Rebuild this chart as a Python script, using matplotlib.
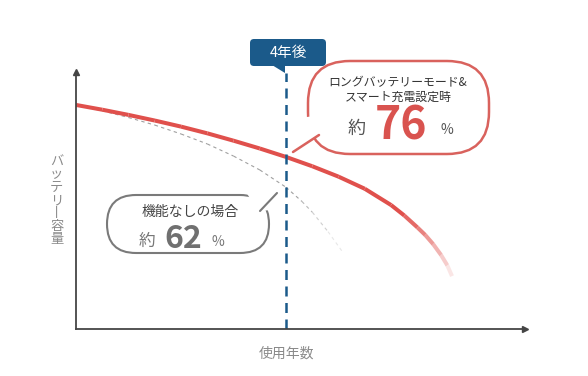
import numpy as np
import matplotlib
matplotlib.use('Agg')
import matplotlib.pyplot as plt
from matplotlib.collections import LineCollection
from matplotlib.patches import FancyBboxPatch, Polygon

plt.rcParams['font.family'] = ['Noto Sans CJK JP', 'DejaVu Sans']

# data (years, remaining capacity %)
red_years = [0, 0.5, 1, 1.5, 2, 2.5, 3, 3.5, 4, 4.5, 5, 5.5, 6, 6.25, 6.5, 6.65, 6.8,
             6.95, 7.07, 7.16]
red_cap = [100, 97.8, 95.4, 92.8, 90.0, 86.9, 83.5, 79.9, 76.0, 71.7, 66.9, 61.3, 53.8,
           49.0, 43.5, 40.0, 35.8, 30.8, 26.0, 21.0]
gray_years = [0, 0.5, 1, 1.5, 2, 2.5, 3, 3.5, 4, 4.3, 4.5, 4.8, 5.09]
gray_cap = [100, 97.3, 94.2, 90.7, 86.6, 82.0, 76.4, 70.0, 62.0, 55.5, 50.5, 41.5, 31.7]
mark_year = 4
label_year = '4年後'
ylabel = 'バッテリー容量'
xlabel = '使用年数'
red_title = 'ロングバッテリーモード&\nスマート充電設定時'
red_value = '76'
gray_title = '機能なしの場合'
gray_value = '62'

RED = '#e0504c'
RED_EDGE = '#d9625d'
BLUE = '#1b5a8a'
AXC = '#454545'

fig = plt.figure(figsize=(5.88, 3.76), dpi=100)
ax = fig.add_axes([76/588, 1-329/376, (525-76)/588, (329-72)/376])
ax.set_xlim(0, 8.55)
ax.set_ylim(-3.4, 115.2)
for s in ['top', 'right']:
    ax.spines[s].set_visible(False)
for s in ['left', 'bottom']:
    ax.spines[s].set_color(AXC)
    ax.spines[s].set_linewidth(1.3)
ax.set_xticks([])
ax.set_yticks([])
ax.plot(1, 0, '>', color=AXC, ms=5, transform=ax.transAxes, clip_on=False)
ax.plot(0, 1, '^', color=AXC, ms=5, transform=ax.transAxes, clip_on=False)

def faded(xs, ys, color, start, lw, ls='solid'):
    pts = np.column_stack([xs, ys])
    segs = [pts[i:i+2] for i in range(len(pts)-1)]
    n = len(segs)
    alphas = []
    for i in range(n):
        if i < start:
            alphas.append(1.0)
        else:
            alphas.append(max(0.04, 1 - (i - start + 1) / (n - start + 1)))
    cols = [matplotlib.colors.to_rgba(color, a) for a in alphas]
    lc = LineCollection(segs, colors=cols, linewidths=lw, linestyles=ls, capstyle='butt')
    ax.add_collection(lc)

faded(gray_years, gray_cap, '#a0a0a0', 9, 0.8, ls=(0, (3, 3)))
faded(red_years, red_cap, RED, 13, 2.9)

ax.axvline(mark_year, ymin=0, ymax=(329-73)/(329-72), color=BLUE, lw=1.8, ls=(0, (4, 2.6)))

ax.text(-0.043, 0.5, '\n'.join(ylabel.replace('ー', '丨')), transform=ax.transAxes,
        ha='center', va='center', fontsize=9.5, color='#8a8a8a', linespacing=1.0)
ax.text(mark_year, -0.07, xlabel, transform=ax.get_xaxis_transform(), ha='center', va='top',
        fontsize=10, color='#8a8a8a')

# overlay in pixel coordinates for callouts
ov = fig.add_axes([0, 0, 1, 1], facecolor='none')
ov.set_xlim(0, 588)
ov.set_ylim(376, 0)
ov.axis('off')

# 4年後 tag
ov.add_patch(FancyBboxPatch((250, 39), 76, 27, boxstyle='round,pad=0,rounding_size=4',
                            fc=BLUE, ec='none'))
ov.add_patch(Polygon([(272, 65), (285, 65), (285, 73)], closed=True, fc=BLUE, ec='none'))
ov.text(288, 52.5, label_year, ha='center', va='center', fontsize=10.5, color='white')

# red bubble
ov.add_patch(FancyBboxPatch((308, 61), 181, 93, boxstyle='round,pad=0,rounding_size=42',
                            fc='white', ec=RED_EDGE, lw=1.8))
ov.add_patch(Polygon([(300, 118), (314, 116), (322, 136), (305, 140)], closed=True,
                     fc='white', ec='none'))
ov.plot([293, 319], [152, 135], color=RED_EDGE, lw=1.8, solid_capstyle='round')
ov.text(398, 90, red_title, ha='center', va='center', fontsize=8.6, color='#333333',
        linespacing=1.25)
ov.text(357, 129, '約', ha='center', va='center', fontsize=13, color='#555555')
ov.text(401, 140, red_value, ha='center', va='baseline', fontsize=32, color='#d9534f',
        fontweight='bold')
ov.text(447, 130, '%', ha='center', va='center', fontsize=10, color='#555555')

# gray bubble
ov.add_patch(FancyBboxPatch((107, 195), 162, 58, boxstyle='round,pad=0,rounding_size=29',
                            fc='white', ec='#7a7a7a', lw=1.5))
ov.add_patch(Polygon([(246, 192), (262, 192), (272, 210), (258, 211)], closed=True,
                     fc='white', ec='none'))
ov.plot([260, 277], [211, 193], color='#7a7a7a', lw=1.5, solid_capstyle='round')
ov.text(190, 212, gray_title, ha='center', va='center', fontsize=10, color='#444444')
ov.text(147, 241, '約', ha='center', va='center', fontsize=12, color='#777777')
ov.text(183, 248, gray_value, ha='center', va='baseline', fontsize=23, color='#707070',
        fontweight='bold')
ov.text(218, 242, '%', ha='center', va='center', fontsize=10, color='#777777')

fig.savefig('out.png', dpi=100)
